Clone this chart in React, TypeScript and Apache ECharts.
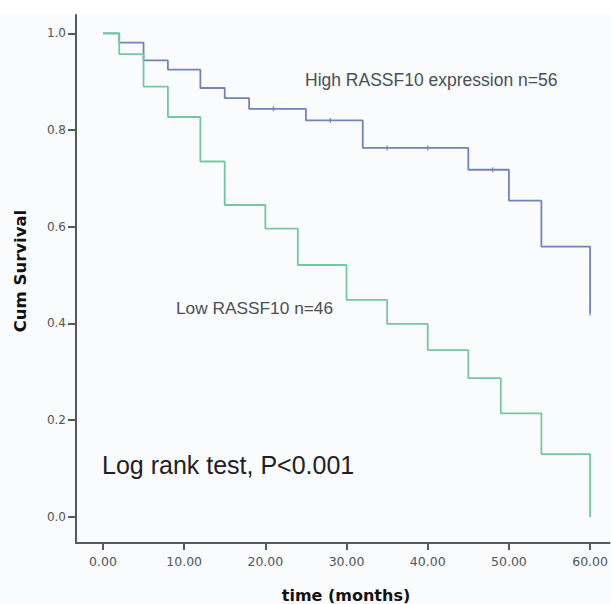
import React, { useEffect, useRef } from "react";
import * as echarts from "echarts";

const highTimes = [0, 2, 5, 8, 12, 15, 18, 25, 32, 45, 50, 54, 60];
const highSurv = [1, 0.981, 0.944, 0.925, 0.887, 0.866, 0.844, 0.82, 0.763, 0.718, 0.654, 0.559, 0.421];
const highCensorTimes = [21, 28, 35, 40, 48, 60];
const highCensorSurv = [0.844, 0.82, 0.763, 0.763, 0.718, 0.421];

const lowTimes = [0, 2, 5, 8, 12, 15, 20, 24, 30, 35, 40, 45, 49, 54, 60];
const lowSurv = [1, 0.957, 0.89, 0.827, 0.735, 0.645, 0.596, 0.521, 0.449, 0.399, 0.345, 0.287, 0.214, 0.13, 0.0];

const xTicks = [0, 10, 20, 30, 40, 50, 60];
const yTicks = [0, 0.2, 0.4, 0.6, 0.8, 1.0];

const highLabel = "High RASSF10 expression n=56";
const lowLabel = "Low RASSF10 n=46";
const testLabel = "Log rank test, P<0.001";
const yTitle = "Cum Survival";
const xTitle = "time (months)";

const BLUE = "#7383b9";
const GREEN = "#72c9a0";
const AXIS = "#555a5e";

export default function App() {
  const ref = useRef<HTMLDivElement>(null);
  useEffect(() => {
    if (!ref.current) return;
    const chart = echarts.init(ref.current, null, { renderer: "svg" });
    const zip = (a: number[], b: number[]) => a.map((v, i) => [v, b[i]]);
    chart.setOption({
      animation: false,
      backgroundColor: "#fafbfd",
      grid: { left: 76, right: 0, top: 15, bottom: 61 },
      xAxis: {
        type: "value",
        min: -3.32,
        max: 62.4,
        splitLine: { show: false },
        axisLine: { show: true, onZero: false, lineStyle: { color: AXIS, width: 2 } },
        axisTick: { show: true, customValues: xTicks, length: 7, lineStyle: { color: AXIS, width: 2 } },
        axisLabel: {
          customValues: xTicks,
          formatter: (v: number) => v.toFixed(2),
          color: "#4f5559",
          fontFamily: "DejaVu Sans",
          fontSize: 12.5,
          margin: 12,
        },
      },
      yAxis: {
        type: "value",
        min: -0.054,
        max: 1.038,
        splitLine: { show: false },
        axisLine: { show: true, onZero: false, lineStyle: { color: AXIS, width: 2 } },
        axisTick: { show: true, customValues: yTicks, length: 8, lineStyle: { color: AXIS, width: 2 } },
        axisLabel: {
          customValues: yTicks,
          formatter: (v: number) => v.toFixed(1),
          color: "#4f5559",
          fontFamily: "DejaVu Sans",
          fontSize: 12,
          margin: 10,
        },
      },
      series: [
        {
          type: "line",
          step: "end",
          data: zip(highTimes, highSurv),
          showSymbol: false,
          lineStyle: { color: BLUE, width: 1.8 },
          z: 2,
        },
        {
          type: "scatter",
          data: zip(highCensorTimes, highCensorSurv),
          symbol: "rect",
          symbolSize: [1.5, 5],
          itemStyle: { color: BLUE },
          z: 3,
        },
        {
          type: "line",
          step: "end",
          data: zip(lowTimes, lowSurv),
          showSymbol: false,
          lineStyle: { color: GREEN, width: 1.8 },
          z: 4,
        },
      ],
      graphic: [
        { type: "rect", left: 0, top: 0, shape: { width: 611, height: 14 }, style: { fill: "#ffffff" }, silent: true },
        {
          type: "text",
          x: 305,
          y: 80,
          style: { text: highLabel, fill: "#4a4f53", font: "17.5px 'Liberation Sans'", textVerticalAlign: "middle" },
        },
        {
          type: "text",
          x: 176,
          y: 308,
          style: { text: lowLabel, fill: "#4a4f53", font: "17.3px 'Liberation Sans'", textVerticalAlign: "middle" },
        },
        {
          type: "text",
          x: 102,
          y: 465,
          style: { text: testLabel, fill: "#1e2124", font: "25px 'Liberation Sans'", textVerticalAlign: "middle" },
        },
        {
          type: "text",
          x: 20,
          y: 271,
          rotation: Math.PI / 2,
          style: {
            text: yTitle,
            fill: "#111111",
            font: "bold 16.5px 'DejaVu Sans'",
            textAlign: "center",
            textVerticalAlign: "middle",
          },
        },
        {
          type: "text",
          x: 346,
          y: 595,
          style: {
            text: xTitle,
            fill: "#111111",
            font: "bold 16px 'DejaVu Sans'",
            textAlign: "center",
            textVerticalAlign: "middle",
          },
        },
      ],
    });
    return () => chart.dispose();
  }, []);
  return <div ref={ref} style={{ width: 611, height: 604, position: "absolute", left: 0, top: 0 }} />;
}
